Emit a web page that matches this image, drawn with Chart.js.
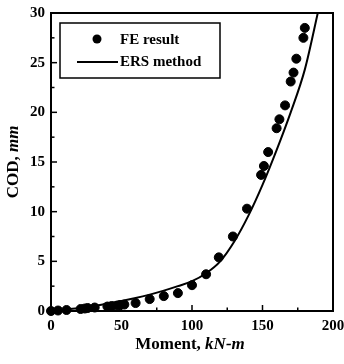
<!DOCTYPE html>
<html>
<head>
<meta charset="utf-8">
<script src="https://cdn.jsdelivr.net/npm/chart.js@4/dist/chart.umd.min.js"></script>
<style>
  html, body { margin: 0; padding: 0; background: #fff; }
  #wrap { width: 344px; height: 364px; position: relative; }
</style>
</head>
<body>
<div id="wrap"><canvas id="chart"></canvas></div>
<script>
// Datos
const feMoment = [0, 5, 11, 21, 24, 26, 31, 40, 43, 47, 49, 52, 60, 70, 80, 90, 100, 110, 119, 129, 139,
                  149, 151, 154, 160, 162, 166, 170, 172, 174, 179, 180];
const feCOD    = [0, 0.05, 0.1, 0.2, 0.25, 0.3, 0.35, 0.45, 0.5, 0.55, 0.6, 0.65, 0.8, 1.2, 1.5, 1.8, 2.6, 3.7, 5.4, 7.5, 10.3,
                  13.7, 14.6, 16.0, 18.4, 19.3, 20.7, 23.1, 24.0, 25.4, 27.5, 28.5];

const ersMoment = [0, 10, 20, 30, 40, 50, 60, 70, 80, 90, 100, 110, 120, 130, 140, 150, 160, 170, 180, 190];
const ersCOD    = [0, 0.15, 0.3, 0.5, 0.75, 1.0, 1.3, 1.65, 2.05, 2.5, 3.0, 3.8, 5.0, 7.0, 9.6, 12.7, 16.2, 20.0, 24.3, 30.5];

const xTicks = [0, 50, 100, 150, 200];
const yTicks = [0, 5, 10, 15, 20, 25, 30];
const xMinor = [25, 75, 125, 175];
const yMinor = [2.5, 7.5, 12.5, 17.5, 22.5, 27.5];

const FONT = "'Liberation Serif', 'Times New Roman', serif";

/** Marco, marcas hacia dentro, títulos de ejes y leyenda */
const framePlugin = {
  id: 'frame',
  afterDraw(chart) {
    const { ctx, chartArea: a, scales } = chart;
    const x = scales.x, y = scales.y;
    ctx.save();
    ctx.strokeStyle = '#000';

    // Marcas
    ctx.lineWidth = 1.5;
    const tickX = (v, len) => {
      const px = x.getPixelForValue(v);
      ctx.beginPath(); ctx.moveTo(px, a.bottom); ctx.lineTo(px, a.bottom - len); ctx.stroke();
    };
    const tickY = (v, len) => {
      const py = y.getPixelForValue(v);
      ctx.beginPath(); ctx.moveTo(a.left, py); ctx.lineTo(a.left + len, py); ctx.stroke();
    };
    xTicks.forEach(v => tickX(v, 6));
    xMinor.forEach(v => tickX(v, 3.5));
    yTicks.forEach(v => tickY(v, 6));
    yMinor.forEach(v => tickY(v, 3.5));

    // Marco
    ctx.lineWidth = 2;
    ctx.strokeRect(a.left, a.top, a.right - a.left, a.bottom - a.top);

    // Títulos de ejes
    ctx.fillStyle = '#000';
    ctx.textBaseline = 'middle';
    const drawMixed = (parts, cx, cy) => {
      let w = 0;
      parts.forEach(p => { ctx.font = p.font; w += ctx.measureText(p.text).width; });
      let sx = cx - w / 2;
      ctx.textAlign = 'left';
      parts.forEach(p => {
        ctx.font = p.font;
        ctx.fillText(p.text, sx, cy);
        sx += ctx.measureText(p.text).width;
      });
    };
    drawMixed([
      { text: 'Moment, ', font: `bold 17px ${FONT}` },
      { text: 'kN-m', font: `italic bold 17px ${FONT}` },
    ], 190, 345);

    ctx.save();
    ctx.translate(14, (a.top + a.bottom) / 2);
    ctx.rotate(-Math.PI / 2);
    drawMixed([
      { text: 'COD, ', font: `bold 17px ${FONT}` },
      { text: 'mm', font: `italic bold 17px ${FONT}` },
    ], 0, 0);
    ctx.restore();

    // Leyenda
    const lx = 60, ly = 23, lw = 160, lh = 55;
    ctx.fillStyle = '#fff';
    ctx.fillRect(lx, ly, lw, lh);
    ctx.lineWidth = 1.5;
    ctx.strokeRect(lx, ly, lw, lh);
    const ds = chart.data.datasets;
    ctx.fillStyle = '#000';
    ctx.beginPath(); ctx.arc(97, 39, 4.5, 0, Math.PI * 2); ctx.fill();
    ctx.lineWidth = 2;
    ctx.beginPath(); ctx.moveTo(77, 62); ctx.lineTo(118, 62); ctx.stroke();
    ctx.font = `bold 15px ${FONT}`;
    ctx.textAlign = 'left';
    ctx.fillText(ds[0].label, 120, 40);
    ctx.fillText(ds[1].label, 120, 62);

    ctx.restore();
  },
};

new Chart(document.getElementById('chart'), {
  type: 'scatter',
  data: {
    datasets: [
      {
        label: 'FE result',
        data: feMoment.map((m, i) => ({ x: m, y: feCOD[i] })),
        backgroundColor: '#000',
        borderColor: '#000',
        pointRadius: 4.5,
        pointHoverRadius: 4.5,
        clip: 6,
      },
      {
        label: 'ERS method',
        data: ersMoment.map((m, i) => ({ x: m, y: ersCOD[i] })),
        showLine: true,
        borderColor: '#000',
        borderWidth: 2,
        pointRadius: 0,
        cubicInterpolationMode: 'monotone',
        fill: false,
      },
    ],
  },
  options: {
    responsive: true,
    maintainAspectRatio: false,
    animation: false,
    layout: { padding: { top: 13, right: 11, left: 0, bottom: 0 } },
    plugins: { legend: { display: false }, tooltip: { enabled: false } },
    scales: {
      x: {
        type: 'linear',
        min: 0, max: 200,
        afterBuildTicks: s => { s.ticks = xTicks.map(v => ({ value: v })); },
        afterFit: s => { s.height = 53; s.paddingLeft = 0; s.paddingRight = 0; },
        grid: { display: false, drawTicks: false },
        border: { display: false },
        ticks: { color: '#000', padding: 6, font: { family: FONT, size: 15, weight: 'bold' } },
      },
      y: {
        type: 'linear',
        min: 0, max: 30,
        afterBuildTicks: s => { s.ticks = yTicks.map(v => ({ value: v })); },
        afterFit: s => { s.width = 51; s.paddingTop = 0; s.paddingBottom = 0; },
        grid: { display: false, drawTicks: false },
        border: { display: false },
        ticks: { color: '#000', padding: 6, font: { family: FONT, size: 15, weight: 'bold' } },
      },
    },
  },
  plugins: [framePlugin],
});
</script>
</body>
</html>
